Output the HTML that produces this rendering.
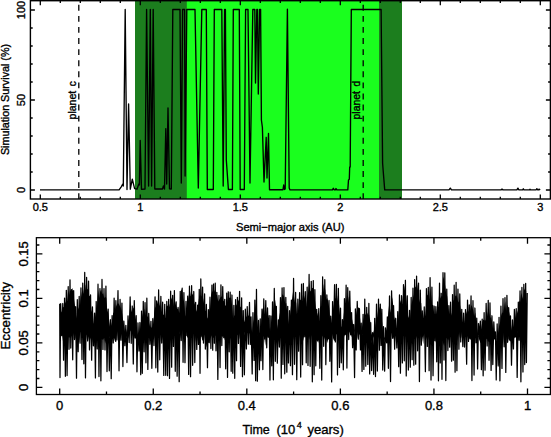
<!DOCTYPE html><html><head><meta charset="utf-8"><style>html,body{margin:0;padding:0;background:#fff;width:551px;height:437px;overflow:hidden}svg{display:block}text{font-family:"Liberation Sans", sans-serif;fill:#000}</style></head><body>
<svg width="551" height="437" viewBox="0 0 551 437">
<rect width="551" height="437" fill="#fff"/>
<rect x="135" y="0.7" width="267" height="198.3" fill="#1c7e1e"/>
<rect x="186.8" y="0.7" width="192.2" height="198.3" fill="#1aff1e"/>
<line x1="78.8" y1="4.8" x2="78.8" y2="199" stroke="#000" stroke-width="1.3" stroke-dasharray="5.9 5.185"/>
<line x1="363.2" y1="4.8" x2="363.2" y2="199" stroke="#000" stroke-width="1.3" stroke-dasharray="5.9 5.185"/>
<text transform="translate(76.2,119.4) rotate(-90)" font-size="10" text-anchor="start" stroke="#000" stroke-width="0.35" textLength="28.6" lengthAdjust="spacingAndGlyphs">planet</text>
<text transform="translate(76.2,86.3) rotate(-90)" font-size="10" text-anchor="start" stroke="#000" stroke-width="0.35">c</text>
<text transform="translate(360.1,119.4) rotate(-90)" font-size="10" text-anchor="start" stroke="#000" stroke-width="0.35" textLength="28.2" lengthAdjust="spacingAndGlyphs">planet</text>
<text transform="translate(360.1,86.4) rotate(-90)" font-size="10" text-anchor="start" stroke="#000" stroke-width="0.35">d</text>
<polyline fill="none" stroke="#000" stroke-width="1.35" stroke-linejoin="round"  points="40,189.9 119.1,189.9 121.4,186.6 122.6,184.3 123.3,186 125.2,9.5 127,189.6 128.6,104 130.3,189.2 132.3,179.1 134.6,188.7 137,189.2 138.8,184 139.4,185 140.2,140.4 141.5,189.3 145,189 146.6,9.5 148.6,186 150.3,9.5 151.6,186 153.2,9.5 154.8,189 162.5,189 163.4,186 164.5,189 165.8,128.6 166.7,184 168,108 169.5,188.8 171.3,189 172.8,9.5 180,9.5 181.3,183 182.6,9.5 184.6,9.5 185.1,176 186.8,9.5 195,9.5 198.3,188 201.8,9.5 206.3,9.5 207.3,189.5 213.3,189.5 214.3,9.5 221.8,9.5 223.2,186 224.6,9.5 225.4,9.5 226.3,160 228.4,189.5 232.4,189.5 233.3,9.5 239.3,9.5 240.2,189.5 244.3,189.5 245.6,9.5 248,9.5 250,183 252.8,9.5 254.8,9.5 255.5,83 256.8,9.5 257.5,9.5 258.3,94 259.6,9.5 260.6,9.5 261.4,120 262.4,127.5 264,182 266.2,137.3 267,178 268.5,133.4 269.5,189.7 283,189.7 283.7,185 284.5,189.5 285.2,189 287.4,9.2 289.2,188 290,189.9 332.5,189.9 333.3,188.3 334.3,189.9 335.3,189.9 336,188.5 336.8,189.9 347.8,189.9 348.5,180 349.3,179.3 349.7,167 350.2,167 351.3,9.5 381.1,9.5 382.6,163 383.2,171 384.7,189.9 449,189.9 450.3,188.1 451.5,189.9 501,189.9 502,189.1 503,189.9 516.9,189.9 517.9,188.2 518.9,189.9 522.6,189.9 523.3,188.8 524,189.9 529.3,189.9 530,189.2 530.7,189.9 536.1,189.9 536.9,188.7 537.7,189.9 538.5,189.9 539,189.2 540.2,189.9"/>
<rect x="30.4" y="0.7" width="520.0" height="198.3" fill="none" stroke="#000" stroke-width="1.4"/>
<path d="M40.3 199V194.5M40.3 0.7V5.2M60.3 199V196.7M60.3 0.7V3M80.3 199V196.7M80.3 0.7V3M100.3 199V196.7M100.3 0.7V3M120.3 199V196.7M120.3 0.7V3M140.3 199V194.5M140.3 0.7V5.2M160.3 199V196.7M160.3 0.7V3M180.3 199V196.7M180.3 0.7V3M200.3 199V196.7M200.3 0.7V3M220.3 199V196.7M220.3 0.7V3M240.3 199V194.5M240.3 0.7V5.2M260.3 199V196.7M260.3 0.7V3M280.3 199V196.7M280.3 0.7V3M300.3 199V196.7M300.3 0.7V3M320.3 199V196.7M320.3 0.7V3M340.3 199V194.5M340.3 0.7V5.2M360.3 199V196.7M360.3 0.7V3M380.3 199V196.7M380.3 0.7V3M400.3 199V196.7M400.3 0.7V3M420.3 199V196.7M420.3 0.7V3M440.3 199V194.5M440.3 0.7V5.2M460.3 199V196.7M460.3 0.7V3M480.3 199V196.7M480.3 0.7V3M500.3 199V196.7M500.3 0.7V3M520.3 199V196.7M520.3 0.7V3M540.3 199V194.5M540.3 0.7V5.2M30.4 190H34.9M550.4 190H545.9M30.4 172H32.7M550.4 172H548.1M30.4 154H32.7M550.4 154H548.1M30.4 136H32.7M550.4 136H548.1M30.4 118H32.7M550.4 118H548.1M30.4 100H34.9M550.4 100H545.9M30.4 82H32.7M550.4 82H548.1M30.4 64H32.7M550.4 64H548.1M30.4 46H32.7M550.4 46H548.1M30.4 28H32.7M550.4 28H548.1M30.4 10H34.9M550.4 10H545.9" stroke="#000" stroke-width="1.3" fill="none"/>
<text x="40.3" y="211.3" font-size="11" text-anchor="middle" stroke="#000" stroke-width="0.35">0.5</text>
<text x="140.3" y="211.3" font-size="11" text-anchor="middle" stroke="#000" stroke-width="0.35">1</text>
<text x="240.3" y="211.3" font-size="11" text-anchor="middle" stroke="#000" stroke-width="0.35">1.5</text>
<text x="340.3" y="211.3" font-size="11" text-anchor="middle" stroke="#000" stroke-width="0.35">2</text>
<text x="440.3" y="211.3" font-size="11" text-anchor="middle" stroke="#000" stroke-width="0.35">2.5</text>
<text x="540.3" y="211.3" font-size="11" text-anchor="middle" stroke="#000" stroke-width="0.35">3</text>
<text transform="translate(25,190) rotate(-90)" font-size="11" text-anchor="middle" stroke="#000" stroke-width="0.35">0</text>
<text transform="translate(25,100) rotate(-90)" font-size="11" text-anchor="middle" stroke="#000" stroke-width="0.35">50</text>
<text transform="translate(25,10) rotate(-90)" font-size="11" text-anchor="middle" stroke="#000" stroke-width="0.35">100</text>
<text x="236" y="230.8" font-size="11" text-anchor="start" stroke="#000" stroke-width="0.35" textLength="108.5" lengthAdjust="spacingAndGlyphs">Semi&#8722;major axis (AU)</text>
<text transform="translate(9.3,155.1) rotate(-90)" font-size="11" text-anchor="start" stroke="#000" stroke-width="0.35" textLength="111.2" lengthAdjust="spacingAndGlyphs">Simulation Survival (%)</text>
<polygon fill="#000" points="60.2,315.83 61.2,311.2 62.2,313.08 63.2,306.92 64.2,306.97 65.2,302.96 66.2,300.78 67.2,301.05 68.2,290.22 69.2,295.09 70.2,289.39 71.2,291.69 72.2,287.83 73.2,292.26 74.2,300.5 75.2,307.8 76.2,318.79 77.2,313.82 78.2,309.08 79.2,306.64 80.2,304.56 81.2,296.35 82.2,290.55 83.2,293.86 84.2,287.48 85.2,284.58 86.2,291.91 87.2,289.01 88.2,289.43 89.2,295.89 90.2,296.15 91.2,310.04 92.2,312.63 93.2,324.1 94.2,322.74 95.2,316.53 96.2,310.57 97.2,304.94 98.2,289.86 99.2,297.98 100.2,291.44 101.2,289.39 102.2,293.97 103.2,293.35 104.2,297.97 105.2,296.94 106.2,297.83 107.2,309.49 108.2,313.26 109.2,321.35 110.2,328.33 111.2,325.26 112.2,320.86 113.2,312.48 114.2,313.06 115.2,310.13 116.2,306.33 117.2,303.91 118.2,303.26 119.2,304.49 120.2,307.08 121.2,309.32 122.2,313.82 123.2,321.19 124.2,326.59 125.2,337.56 126.2,328.92 127.2,333.81 128.2,321.19 129.2,317.81 130.2,306.08 131.2,310.28 132.2,313.11 133.2,308.2 134.2,307.11 135.2,318.83 136.2,321.84 137.2,334.96 138.2,334.39 139.2,337.56 140.2,331.49 141.2,324.49 142.2,316.28 143.2,311.83 144.2,308.67 145.2,315.79 146.2,307.17 147.2,317 148.2,315.96 149.2,323.78 150.2,327.56 151.2,326.75 152.2,328.82 153.2,323.57 154.2,314.31 155.2,306.52 156.2,308.57 157.2,303.48 158.2,300.32 159.2,306.01 160.2,300.75 161.2,312.78 162.2,314.18 163.2,314.86 164.2,314.53 165.2,318.27 166.2,306.34 167.2,306.15 168.2,304.69 169.2,304 170.2,308.36 171.2,297.16 172.2,300.48 173.2,306.8 174.2,300.54 175.2,302.54 176.2,305.96 177.2,308.93 178.2,308.37 179.2,313.03 180.2,299.99 181.2,289.11 182.2,290.76 183.2,299.06 184.2,302.11 185.2,314.95 186.2,316.94 187.2,313.46 188.2,299.02 189.2,292.62 190.2,296.43 191.2,289.57 192.2,295.09 193.2,293.07 194.2,302.27 195.2,305.38 196.2,311.66 197.2,308.84 198.2,304.19 199.2,296.4 200.2,295.12 201.2,296.03 202.2,296.92 203.2,298.63 204.2,304.5 205.2,311.06 206.2,310.66 207.2,318.63 208.2,316.74 209.2,311.48 210.2,308.34 211.2,294.84 212.2,291.48 213.2,291.59 214.2,291.78 215.2,289.31 216.2,294.96 217.2,294.86 218.2,301.5 219.2,299.87 220.2,297.79 221.2,296.68 222.2,296.14 223.2,300.63 224.2,301.55 225.2,305.45 226.2,305.85 227.2,301.81 228.2,294.84 229.2,297.89 230.2,297.3 231.2,298.45 232.2,305.94 233.2,320.05 234.2,315.45 235.2,315.45 236.2,304.12 237.2,305.94 238.2,299.56 239.2,301.98 240.2,306.67 241.2,307.6 242.2,316.52 243.2,321.89 244.2,322.07 245.2,319.29 246.2,317.01 247.2,315.86 248.2,316.06 249.2,314.81 250.2,317.09 251.2,328.86 252.2,332.63 253.2,322.99 254.2,318.46 255.2,308.73 256.2,301.38 257.2,317.39 258.2,330.26 259.2,337.56 260.2,331.8 261.2,323.66 262.2,310.63 263.2,307.15 264.2,314.62 265.2,314.7 266.2,311.46 267.2,322.37 268.2,321.56 269.2,327.9 270.2,330.96 271.2,325.13 272.2,315.93 273.2,309.72 274.2,297.2 275.2,300.51 276.2,308.21 277.2,329.15 278.2,322.81 279.2,317.08 280.2,311.46 281.2,300.9 282.2,294.15 283.2,295 284.2,297.32 285.2,303.74 286.2,302.95 287.2,311.38 288.2,320.99 289.2,325.71 290.2,313.48 291.2,303.62 292.2,298.26 293.2,290.3 294.2,297.79 295.2,303.67 296.2,302.61 297.2,317.83 298.2,310.76 299.2,301.07 300.2,299.45 301.2,300.61 302.2,300.9 303.2,292.92 304.2,296.43 305.2,299.69 306.2,306.97 307.2,297.49 308.2,291.58 309.2,282.46 310.2,291.49 311.2,290.31 312.2,287.95 313.2,287.79 314.2,293.06 315.2,302.21 316.2,311.42 317.2,313.11 318.2,316.97 319.2,320.89 320.2,306.93 321.2,306.05 322.2,287.52 323.2,284.15 324.2,294.52 325.2,289.11 326.2,299.84 327.2,297.9 328.2,301.21 329.2,307.95 330.2,321 331.2,322.74 332.2,314.5 333.2,311 334.2,302.8 335.2,297.73 336.2,299.37 337.2,300.83 338.2,293.86 339.2,306.15 340.2,317.53 341.2,327.15 342.2,326.01 343.2,320.25 344.2,309.92 345.2,308.71 346.2,300.02 347.2,295.6 348.2,297.26 349.2,304.53 350.2,307.14 351.2,317.21 352.2,319.86 353.2,326.1 354.2,332.3 355.2,320.52 356.2,314.29 357.2,308.85 358.2,307.45 359.2,307.77 360.2,320.06 361.2,334.13 362.2,326.28 363.2,320.8 364.2,316.39 365.2,314.79 366.2,313.75 367.2,312.67 368.2,315.15 369.2,314.41 370.2,320.85 371.2,332.48 372.2,335.68 373.2,332.96 374.2,329.5 375.2,326.9 376.2,320.33 377.2,317.01 378.2,309.46 379.2,306.89 380.2,310.95 381.2,313.1 382.2,323.02 383.2,337.56 384.2,337.56 385.2,337.56 386.2,334.3 387.2,329.91 388.2,312.99 389.2,303.69 390.2,312.79 391.2,307.77 392.2,297.06 393.2,305.3 394.2,316.8 395.2,321.08 396.2,331.3 397.2,327.69 398.2,319.2 399.2,306.2 400.2,299.98 401.2,303.85 402.2,304.09 403.2,293.19 404.2,285.6 405.2,292.27 406.2,296.44 407.2,309.23 408.2,316.33 409.2,318.61 410.2,319.74 411.2,305.91 412.2,301.19 413.2,297.59 414.2,293.58 415.2,286.29 416.2,288.05 417.2,284.22 418.2,292.01 419.2,299.93 420.2,303.54 421.2,302.92 422.2,319.4 423.2,331.05 424.2,319.52 425.2,315.2 426.2,303.8 427.2,294.88 428.2,294.62 429.2,299.85 430.2,287.76 431.2,296.18 432.2,304.9 433.2,305.12 434.2,313.86 435.2,314.14 436.2,313.87 437.2,307.51 438.2,306.9 439.2,292.94 440.2,298.8 441.2,296.27 442.2,296.45 443.2,276.5 444.2,279.71 445.2,285.94 446.2,293.81 447.2,296.44 448.2,308.33 449.2,313.3 450.2,316.92 451.2,315.19 452.2,311.78 453.2,299.96 454.2,300.8 455.2,295.94 456.2,295.36 457.2,297.19 458.2,302.57 459.2,300.86 460.2,306.27 461.2,315.58 462.2,327.77 463.2,323.39 464.2,325.31 465.2,318.97 466.2,313.33 467.2,310.27 468.2,311.03 469.2,312.96 470.2,311.9 471.2,304.99 472.2,306.72 473.2,310.02 474.2,316.15 475.2,312.45 476.2,321.26 477.2,330.12 478.2,336.5 479.2,334.77 480.2,330.74 481.2,328.93 482.2,322.59 483.2,319.5 484.2,320.15 485.2,320.72 486.2,318.93 487.2,315.97 488.2,310.14 489.2,314.34 490.2,318.11 491.2,316.92 492.2,322.62 493.2,330.36 494.2,330.94 495.2,337.56 496.2,336.83 497.2,333.54 498.2,332.42 499.2,325.71 500.2,321.97 501.2,315.25 502.2,312.18 503.2,313.26 504.2,307.72 505.2,301.12 506.2,311.9 507.2,304.79 508.2,306.93 509.2,312.23 510.2,318.01 511.2,326.45 512.2,332.05 513.2,329.04 514.2,324.16 515.2,319.71 516.2,317.38 517.2,312.71 518.2,309.56 519.2,301 520.2,301.72 521.2,292.64 522.2,296.85 523.2,299.46 524.2,288.14 525.2,290.9 526.2,290.71 526.2,340.96 525.2,339.02 524.2,336.17 523.2,332.85 522.2,335.15 521.2,335.76 520.2,337.9 519.2,333.44 518.2,340.79 517.2,331.28 516.2,330.29 515.2,336.63 514.2,338.44 513.2,332.97 512.2,334.09 511.2,341.48 510.2,341.13 509.2,333.91 508.2,342.42 507.2,343.23 506.2,336.9 505.2,339.97 504.2,345.32 503.2,332.96 502.2,333.72 501.2,336.9 500.2,337.83 499.2,334.3 498.2,339.78 497.2,333.91 496.2,337.26 495.2,334.47 494.2,339.87 493.2,338.44 492.2,340.41 491.2,346.77 490.2,336.72 489.2,340.67 488.2,342.03 487.2,339.02 486.2,338.69 485.2,341.81 484.2,332.9 483.2,340.66 482.2,340.55 481.2,343.41 480.2,342.31 479.2,339.67 478.2,335.81 477.2,340.52 476.2,338.91 475.2,336.14 474.2,332.77 473.2,331.04 472.2,329.37 471.2,340.29 470.2,337.55 469.2,339.36 468.2,335.09 467.2,337.95 466.2,333.01 465.2,332.01 464.2,335.66 463.2,338.52 462.2,329.18 461.2,338.58 460.2,329.94 459.2,338.03 458.2,332.76 457.2,341.1 456.2,333.37 455.2,334.69 454.2,344.55 453.2,332.46 452.2,342.86 451.2,336.39 450.2,336.53 449.2,337.4 448.2,340.4 447.2,337.54 446.2,338.58 445.2,340.33 444.2,345.98 443.2,343.19 442.2,338.14 441.2,338.03 440.2,338.3 439.2,336.8 438.2,337.36 437.2,334.94 436.2,334.1 435.2,342.81 434.2,336.28 433.2,334.09 432.2,343.95 431.2,345.24 430.2,343.92 429.2,340.32 428.2,336.3 427.2,339.94 426.2,337.02 425.2,341.39 424.2,332.8 423.2,344.18 422.2,337.17 421.2,333.06 420.2,337.94 419.2,335.54 418.2,332.99 417.2,339.6 416.2,336.19 415.2,337.69 414.2,332.91 413.2,334.31 412.2,329.66 411.2,333.57 410.2,336.74 409.2,334.95 408.2,337.89 407.2,333.2 406.2,333.29 405.2,337.52 404.2,332.69 403.2,331.88 402.2,336.51 401.2,332.45 400.2,340.93 399.2,333.16 398.2,341.75 397.2,335.34 396.2,333.83 395.2,331.97 394.2,336.38 393.2,339.22 392.2,338.84 391.2,332.78 390.2,336.93 389.2,337.42 388.2,344.55 387.2,342.18 386.2,338.4 385.2,337.42 384.2,341.58 383.2,341.76 382.2,338.07 381.2,335.71 380.2,337 379.2,335.02 378.2,337.58 377.2,343.56 376.2,342.83 375.2,334.27 374.2,339.4 373.2,336.36 372.2,345.78 371.2,340.08 370.2,345.39 369.2,338.33 368.2,334.53 367.2,335.63 366.2,331.63 365.2,336.88 364.2,336.16 363.2,335.71 362.2,334.03 361.2,337.74 360.2,333.21 359.2,335.17 358.2,329.75 357.2,339 356.2,331.04 355.2,335.29 354.2,329.17 353.2,341.49 352.2,338 351.2,335.12 350.2,334.6 349.2,331.52 348.2,338.78 347.2,330.49 346.2,330.15 345.2,334.02 344.2,336.53 343.2,337.31 342.2,339.71 341.2,338.25 340.2,343.83 339.2,332.28 338.2,340.06 337.2,334.79 336.2,333.9 335.2,340.29 334.2,340.91 333.2,338.69 332.2,333.75 331.2,335.65 330.2,334.6 329.2,339.89 328.2,339.06 327.2,343.01 326.2,338.34 325.2,340.41 324.2,337.53 323.2,335.06 322.2,336.86 321.2,338.28 320.2,345.31 319.2,339.12 318.2,342.71 317.2,340.94 316.2,340.37 315.2,346.19 314.2,343.25 313.2,342.48 312.2,336.89 311.2,334.83 310.2,335.12 309.2,339.82 308.2,336.95 307.2,332.53 306.2,335.75 305.2,337.68 304.2,334.72 303.2,341.04 302.2,333.93 301.2,339.44 300.2,329.76 299.2,336.76 298.2,330.63 297.2,331.63 296.2,337.37 295.2,335.13 294.2,341.43 293.2,336.75 292.2,333.97 291.2,335.41 290.2,331.58 289.2,338.14 288.2,340.87 287.2,334.01 286.2,339.18 285.2,331.19 284.2,338.8 283.2,342.22 282.2,338.71 281.2,339.49 280.2,333.12 279.2,335.86 278.2,334.55 277.2,341.31 276.2,342.89 275.2,338.79 274.2,333.91 273.2,338.39 272.2,339.34 271.2,334.19 270.2,335.33 269.2,337.5 268.2,336.38 267.2,336.5 266.2,334.78 265.2,345.96 264.2,335.71 263.2,336.69 262.2,338.99 261.2,334.57 260.2,337.91 259.2,334.97 258.2,332.84 257.2,339.9 256.2,336.51 255.2,332.15 254.2,333.68 253.2,336.14 252.2,339.86 251.2,342.61 250.2,334.23 249.2,332.95 248.2,332.68 247.2,332.88 246.2,333.3 245.2,332.36 244.2,332.47 243.2,341.43 242.2,329.16 241.2,333.69 240.2,331.58 239.2,339.16 238.2,334.45 237.2,335.02 236.2,337.32 235.2,342.37 234.2,332.46 233.2,341.28 232.2,336.42 231.2,338.47 230.2,338.37 229.2,343.75 228.2,342.1 227.2,335.78 226.2,342.09 225.2,335.89 224.2,340.33 223.2,335.85 222.2,337.23 221.2,334.39 220.2,338.76 219.2,335.89 218.2,338.33 217.2,343.42 216.2,336.97 215.2,335.15 214.2,336.71 213.2,338.35 212.2,334.79 211.2,336.8 210.2,338.41 209.2,343.41 208.2,341.84 207.2,342.8 206.2,347.17 205.2,341.44 204.2,334.52 203.2,340.67 202.2,340.35 201.2,334.94 200.2,337.63 199.2,338.87 198.2,343.21 197.2,337.12 196.2,343.66 195.2,335.13 194.2,335.04 193.2,332.79 192.2,331.27 191.2,337.56 190.2,334.89 189.2,339.16 188.2,337.52 187.2,337.62 186.2,330.44 185.2,331.4 184.2,339.87 183.2,337.54 182.2,328.86 181.2,339.74 180.2,334.89 179.2,331.19 178.2,338.4 177.2,334.5 176.2,335.03 175.2,330.45 174.2,334.18 173.2,338.32 172.2,331.59 171.2,335.38 170.2,340.11 169.2,333.33 168.2,340.06 167.2,336.17 166.2,336.38 165.2,339.31 164.2,339.44 163.2,341.51 162.2,336.14 161.2,344.31 160.2,335.1 159.2,334.38 158.2,336.11 157.2,335.12 156.2,337.98 155.2,339.79 154.2,335.53 153.2,335.53 152.2,339.17 151.2,341.36 150.2,339.56 149.2,337 148.2,337.14 147.2,345.02 146.2,335.23 145.2,345.14 144.2,338.3 143.2,336.26 142.2,338.78 141.2,332.51 140.2,341.78 139.2,337.36 138.2,334.04 137.2,334.77 136.2,335.27 135.2,335.08 134.2,338.05 133.2,338.41 132.2,330.36 131.2,332.22 130.2,330.21 129.2,334.67 128.2,338.16 127.2,340.3 126.2,336.15 125.2,336.95 124.2,336.88 123.2,337.17 122.2,332.5 121.2,335.34 120.2,339.88 119.2,335.51 118.2,342.62 117.2,331 116.2,342.18 115.2,341.66 114.2,338.98 113.2,332.76 112.2,338.24 111.2,343.4 110.2,335.71 109.2,337.48 108.2,334.6 107.2,342.11 106.2,339.4 105.2,343.49 104.2,337.75 103.2,339.79 102.2,339.58 101.2,338.18 100.2,347.78 99.2,345.81 98.2,341.73 97.2,334.37 96.2,347.72 95.2,340.18 94.2,347.44 93.2,344.05 92.2,337.5 91.2,340.27 90.2,337.9 89.2,334.97 88.2,341.15 87.2,341.8 86.2,334.73 85.2,335.06 84.2,337.68 83.2,331.69 82.2,333.02 81.2,331.71 80.2,332.42 79.2,342.89 78.2,335.62 77.2,338.68 76.2,330.21 75.2,339.18 74.2,331.69 73.2,335.13 72.2,338 71.2,335.81 70.2,336.21 69.2,338.3 68.2,329.93 67.2,332.94 66.2,331.95 65.2,330.83 64.2,331.73 63.2,342.7 62.2,335.52 61.2,336.26 60.2,341.55"/>
<polyline fill="none" stroke="#000" stroke-width="1.25" stroke-linejoin="round"  points="59.7,303.74 60,377.61 60.7,303.7 61.75,335.02 62.79,303.5 63.55,360.23 64.56,298.22 65.36,376.35 66.33,290.27 67.08,375.59 68.2,286.52 69.01,349.33 70.01,279.78 70.76,348.07 71.6,289.59 72.7,359.81 73.66,290.57 74.49,339.51 75.63,306.65 76.5,378.22 77.31,299.67 78.18,351.74 79.2,296.43 80.07,343.24 80.95,287.9 81.98,359.5 82.74,283.11 83.83,363.83 84.72,272.42 85.48,377.87 86.61,277.45 87.66,335.03 88.55,281.08 89.51,349.88 90.56,294.95 91.65,360.17 92.44,306.86 93.43,345.75 94.55,313.22 95.43,377.95 96.21,301.5 97.24,348.92 98.01,284.14 98.97,376.57 99.96,288.53 100.89,380.77 102,279.44 102.95,349.48 104,288.51 105,349.9 105.92,286.11 107.01,371.57 108.16,309.02 109.3,370.76 110.34,319.68 111.21,378.67 112.11,315.51 113.24,342.91 114.13,298.24 114.99,336.36 115.88,300.55 116.94,339.98 117.99,290.51 119.03,370.82 120.08,299.39 120.95,340.24 121.93,303.01 122.9,366.52 123.84,321.13 124.85,345.61 125.85,325.37 126.94,362.56 128.03,315.76 129.17,342.58 130.14,296.97 131.22,343.31 132.25,306 133.29,364 134.27,300.63 135.19,338.01 136.19,315.71 136.96,371.85 137.97,322.8 138.99,351.05 139.93,322.5 140.7,374.72 141.52,311.03 142.29,373.26 143.28,301.27 144.13,351.79 145.04,302.52 145.95,362.82 146.85,298.24 147.85,369.44 148.73,313.42 149.87,344.34 150.94,321.28 151.84,368.27 152.82,318.54 153.95,345.55 155.06,296.8 155.85,367.83 156.66,300.98 157.77,372.07 158.61,289.99 159.75,359.82 160.86,296.37 161.72,342.97 162.63,302.23 163.78,375.43 164.72,304.37 165.72,375.28 166.78,301.45 167.53,375.72 168.66,299.41 169.51,378.48 170.65,291.15 171.64,367.14 172.64,295.37 173.43,346.45 174.4,290.51 175.27,371.32 176.16,301.84 177.15,376.22 178.08,307.34 179.18,381.72 180.24,291.35 181.22,340.55 182.17,288.24 183.07,362.35 183.9,292.51 184.98,362.71 186.01,301.28 186.87,335.59 187.68,296.15 188.65,374.41 189.46,286.23 190.54,376.74 191.62,285.64 192.63,365.34 193.77,291.5 194.8,362.57 195.64,302.26 196.77,349.4 197.64,305.09 198.45,344.43 199.26,289.32 200.03,373.29 200.81,278.92 201.79,336.16 202.59,287.04 203.47,343.09 204.59,293.92 205.37,349.11 206.37,304.43 207.48,367.69 208.34,309.68 209.19,342.6 209.99,297.15 210.89,348.61 211.93,285.04 212.71,350.18 213.51,284 214.36,343.25 215.24,283.18 216,350.84 216.81,292.26 217.83,379.37 218.97,295.49 220.05,367.6 220.94,284.87 221.82,345.59 222.73,286.63 223.81,337.48 224.73,299.45 225.69,368.79 226.74,293.02 227.53,377.38 228.29,291.75 229.23,351.79 230.17,292.19 231.17,371.29 231.96,295 232.77,373.14 233.87,305.28 234.73,378.32 235.59,299.56 236.53,360.67 237.43,297.33 238.46,343.4 239.58,291.29 240.6,366.45 241.64,297.88 242.47,376.73 243.26,310.55 244.4,374.84 245.33,309.24 246.38,348.89 247.22,306.63 248.35,344.13 249.49,302.36 250.26,344.5 251.03,316.86 252.18,373.96 252.96,312.69 254.07,360.41 254.84,300.03 255.61,380.67 256.47,289.43 257.34,381.19 258.48,320.47 259.43,369.77 260.22,318.94 261.01,360.74 262,309.24 262.83,369.57 263.78,298.83 264.68,338.88 265.79,300.52 266.72,347.81 267.52,307.95 268.3,337.21 269.18,315.61 269.96,380.11 270.88,315.93 271.73,365.85 272.5,301.93 273.37,379.78 274.28,288.41 275.34,361.32 276.35,306.28 277.33,363.16 278.34,319.83 279.38,347.04 280.45,297.58 281.26,378.14 282.11,287.97 282.98,364.39 283.95,287.62 284.72,373.8 285.81,297.44 286.81,372.14 287.7,306.28 288.46,362.93 289.5,310.73 290.46,365.64 291.39,300.17 292.46,374.72 293.57,278.48 294.5,364.3 295.62,292.49 296.76,379.66 297.84,299.23 298.61,351.21 299.59,292.52 300.69,377.07 301.55,284.11 302.53,364.68 303.37,283.5 304.22,336.84 305.31,291.67 306.22,362.81 307.17,287.23 307.99,365.45 309.1,274.48 310.16,366.26 311.26,281.27 312.33,381.83 313.28,280.58 314.11,374.72 314.87,289.7 315.77,365.78 316.68,309.35 317.76,339.47 318.78,308.58 319.85,368.33 320.87,295.54 321.73,380.04 322.62,276.77 323.68,346.34 324.8,279.66 325.84,364.63 326.85,294.91 327.96,336.88 329.01,300.49 329.84,361.32 330.69,316.03 331.65,381.99 332.56,301.6 333.57,335.6 334.57,284.7 335.36,341.95 336.4,284.27 337.5,374.99 338.36,288.37 339.47,367.42 340.52,308.22 341.3,362.85 342.4,319.51 343.32,369.82 344.43,298.73 345.29,334.6 346.12,285.21 346.91,368.1 347.74,287.69 348.72,339.51 349.77,291.06 350.71,334.76 351.59,312.53 352.59,347.72 353.62,324.5 354.56,377.58 355.38,308.92 356.19,349.93 357.24,301.4 358.32,339.11 359.44,308.74 360.44,349.96 361.23,323.15 362.06,371.45 363.08,314.37 363.87,369.48 364.77,299.09 365.76,366.24 366.7,307.27 367.83,364.48 368.87,303.38 369.67,373.87 370.71,322.54 371.61,370.52 372.64,332.54 373.62,374.26 374.71,318.35 375.48,376.56 376.5,304.2 377.36,371.01 378.5,299.23 379.41,350.17 380.3,304.24 381.05,345.37 381.81,309.25 382.74,370.1 383.51,326.71 384.65,371.14 385.44,327.76 386.57,342.76 387.34,316.8 388.4,368.33 389.51,295.92 390.52,381.51 391.57,290.84 392.67,335.51 393.57,305.58 394.63,349.16 395.69,318.25 396.83,347.94 397.75,311.6 398.68,366.64 399.48,294.96 400.42,373.24 401.53,295.65 402.35,362.89 403.49,284.73 404.29,360.77 405.42,280.25 406.24,375.89 407.29,295.75 408.35,370.07 409.49,310.35 410.28,367.17 411.18,297.46 412.12,359.71 412.97,288.22 413.82,365.13 414.63,279.54 415.66,364.22 416.58,276.05 417.57,350.8 418.52,283.11 419.42,381.56 420.29,290.04 421.31,345.21 422.27,310.95 423.39,334.21 424.26,306.89 425.39,371.68 426.43,288.51 427.34,346.47 428.31,287.34 429.11,370.62 430.09,277.69 431.02,380.03 431.91,287.23 433.04,375.68 434.11,306.13 434.96,340.66 435.87,306.65 436.72,361.78 437.64,301.89 438.46,380.86 439.51,283.23 440.26,362.99 441.21,293.25 441.98,379.34 443.01,272.68 444.01,360.1 444.8,272.84 445.83,380.51 446.76,289.03 447.87,350.57 448.87,305.62 449.67,347.2 450.54,302.24 451.6,361.19 452.53,294.62 453.37,360.15 454.2,285.18 455.09,372.22 456.09,282.29 456.91,370.69 457.94,289.11 458.91,349.22 459.77,293.97 460.74,341.92 461.75,309.32 462.81,346.57 463.61,313.21 464.5,347.09 465.5,309.61 466.64,364.24 467.52,300.01 468.52,341.43 469.29,304.76 470.2,338.91 471.05,295.92 471.93,380.57 472.97,300.67 474.07,375.08 474.89,308 475.95,342.79 476.75,318.16 477.59,368.99 478.45,323.5 479.41,334.96 480.34,321.01 481.4,369.62 482.19,319.11 483.15,375.76 484.12,312.66 485.04,370.15 486.16,303.45 487.16,346 488.24,300.26 489.04,360.33 489.98,302.78 491.1,370.49 491.96,315.75 492.81,364.51 493.81,321.92 494.64,338.82 495.43,331.77 496.23,379.98 497.16,323.98 498.25,365.89 499.05,317.26 499.9,380.85 500.93,306.18 501.99,368.37 503,298.59 504.1,346.78 504.98,297.62 505.78,372.47 506.92,295.32 507.93,338.84 508.68,307.72 509.56,340.03 510.48,315.95 511.5,365.13 512.45,319.99 513.45,348.96 514.39,309.44 515.46,336.9 516.23,308.7 517.17,377.37 518.31,302.13 519.15,340.21 520.06,290.94 520.9,381.83 521.91,287.45 522.96,372 523.83,284.48 524.73,364.53 525.66,283.36 526.43,362.61 527.24,293.02"/>
<rect x="36.4" y="237.7" width="514.0" height="156.8" fill="none" stroke="#000" stroke-width="1.3"/>
<path d="M59.7 394.5V388.5M59.7 237.7V243.7M106.48 394.5V391.5M106.48 237.7V240.7M153.26 394.5V388.5M153.26 237.7V243.7M200.04 394.5V391.5M200.04 237.7V240.7M246.82 394.5V388.5M246.82 237.7V243.7M293.6 394.5V391.5M293.6 237.7V240.7M340.38 394.5V388.5M340.38 237.7V243.7M387.16 394.5V391.5M387.16 237.7V240.7M433.94 394.5V388.5M433.94 237.7V243.7M480.72 394.5V391.5M480.72 237.7V240.7M527.5 394.5V388.5M527.5 237.7V243.7M36.4 387.4H42.4M550.4 387.4H544.4M36.4 378.5H39.4M550.4 378.5H547.4M36.4 369.6H39.4M550.4 369.6H547.4M36.4 360.7H39.4M550.4 360.7H547.4M36.4 351.8H39.4M550.4 351.8H547.4M36.4 342.9H42.4M550.4 342.9H544.4M36.4 334H39.4M550.4 334H547.4M36.4 325.1H39.4M550.4 325.1H547.4M36.4 316.2H39.4M550.4 316.2H547.4M36.4 307.3H39.4M550.4 307.3H547.4M36.4 298.4H42.4M550.4 298.4H544.4M36.4 289.5H39.4M550.4 289.5H547.4M36.4 280.6H39.4M550.4 280.6H547.4M36.4 271.7H39.4M550.4 271.7H547.4M36.4 262.8H39.4M550.4 262.8H547.4M36.4 253.9H42.4M550.4 253.9H544.4M36.4 245H39.4M550.4 245H547.4" stroke="#000" stroke-width="1.3" fill="none"/>
<text x="59.7" y="409.9" font-size="13" text-anchor="middle" stroke="#000" stroke-width="0.35">0</text>
<text x="153.26" y="409.9" font-size="13" text-anchor="middle" stroke="#000" stroke-width="0.35">0.2</text>
<text x="246.82" y="409.9" font-size="13" text-anchor="middle" stroke="#000" stroke-width="0.35">0.4</text>
<text x="340.38" y="409.9" font-size="13" text-anchor="middle" stroke="#000" stroke-width="0.35">0.6</text>
<text x="433.94" y="409.9" font-size="13" text-anchor="middle" stroke="#000" stroke-width="0.35">0.8</text>
<text x="527.5" y="409.9" font-size="13" text-anchor="middle" stroke="#000" stroke-width="0.35">1</text>
<text transform="translate(28.3,387.4) rotate(-90)" font-size="13" text-anchor="middle" stroke="#000" stroke-width="0.35">0</text>
<text transform="translate(28.3,342.9) rotate(-90)" font-size="13" text-anchor="middle" stroke="#000" stroke-width="0.35">0.05</text>
<text transform="translate(28.3,298.4) rotate(-90)" font-size="13" text-anchor="middle" stroke="#000" stroke-width="0.35">0.1</text>
<text transform="translate(28.3,253.9) rotate(-90)" font-size="13" text-anchor="middle" stroke="#000" stroke-width="0.35">0.15</text>
<text x="242.6" y="434.1" font-size="13" text-anchor="start" stroke="#000" stroke-width="0.35" textLength="27.2" lengthAdjust="spacingAndGlyphs">Time</text>
<text x="276.4" y="434.1" font-size="13" text-anchor="start" stroke="#000" stroke-width="0.35">(10</text>
<text x="296.7" y="427.6" font-size="9" text-anchor="start" stroke="#000" stroke-width="0.35">4</text>
<text x="307.4" y="434.1" font-size="13" text-anchor="start" stroke="#000" stroke-width="0.35" textLength="36.4" lengthAdjust="spacingAndGlyphs">years)</text>
<text transform="translate(10.1,349.5) rotate(-90)" font-size="12.5" text-anchor="start" stroke="#000" stroke-width="0.35" textLength="67.6" lengthAdjust="spacingAndGlyphs">Eccentricity</text>
</svg></body></html>
